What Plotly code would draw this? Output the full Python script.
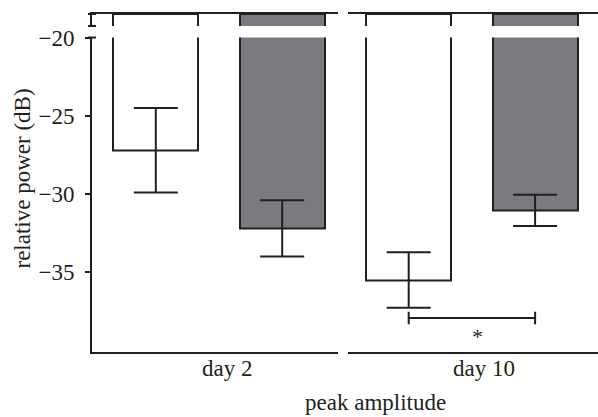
import plotly.graph_objects as go

# ---- data ----
days = ["day 2", "day 10"]
white_means = [-27.2, -35.5]
white_err = [2.7, 1.77]
gray_means = [-32.2, -31.05]
gray_err = [1.8, 1.0]
sig_y = -37.93
sig_label = "*"
y_ticks = [-20, -25, -30, -35]
y_ticktext = ["\u221220", "\u221225", "\u221230", "\u221235"]

INK = "#231f20"
GRAY = "#7a7b7f"
FONT = "Liberation Serif"
FS = 23

W, H = 598, 417
ML, MR, MT, MB = 92, 0, 14, 65
PW = W - ML - MR
PH = H - MT - MB

def px_x(px):
    return (px - ML) / PW

def px_y(py):
    return (H - MB - py) / PH

left_dom = [0, px_x(338)]
right_dom = [px_x(348), 1]
low_dom = [0, px_y(37.5)]
top_dom = [px_y(26), 1]

unit = 126.4
left_range = [-(155.8 - 92) / unit, -(155.8 - 92) / unit + 246 / unit]
right_range = [-(408.7 - 348) / unit, -(408.7 - 348) / unit + 250 / unit]
bw = 85 / unit

fig = go.Figure()

panels = [("x", "x3"), ("x2", "x4")]
for i, (xl, xt) in enumerate(panels):
    # lower segment with error bars
    fig.add_trace(go.Bar(x=[0], y=[white_means[i]], width=bw, xaxis=xl, yaxis="y",
                         marker=dict(color="white", line=dict(color=INK, width=2)),
                         error_y=dict(type="data", array=[white_err[i]], color=INK,
                                      thickness=2, width=22),
                         showlegend=False, hoverinfo="skip"))
    fig.add_trace(go.Bar(x=[1], y=[gray_means[i]], width=bw, xaxis=xl, yaxis="y",
                         marker=dict(color=GRAY, line=dict(color=INK, width=2)),
                         error_y=dict(type="data", array=[gray_err[i]], color=INK,
                                      thickness=2, width=22),
                         showlegend=False, hoverinfo="skip"))
    # upper (broken) segment
    fig.add_trace(go.Bar(x=[0], y=[white_means[i]], width=bw, xaxis=xt, yaxis="y3",
                         marker=dict(color="white", line=dict(color=INK, width=2)),
                         showlegend=False, hoverinfo="skip"))
    fig.add_trace(go.Bar(x=[1], y=[gray_means[i]], width=bw, xaxis=xt, yaxis="y3",
                         marker=dict(color=GRAY, line=dict(color=INK, width=2)),
                         showlegend=False, hoverinfo="skip"))

# significance bracket (day 10)
fig.add_trace(go.Scatter(x=[0, 1], y=[sig_y, sig_y], xaxis="x2", yaxis="y",
                         mode="lines+markers",
                         line=dict(color=INK, width=2),
                         marker=dict(symbol="line-ns-open", size=9,
                                     line=dict(color=INK, width=2)),
                         showlegend=False, hoverinfo="skip", cliponaxis=False))

fig.add_annotation(x=0.543, y=sig_y - 1.2, xref="x2", yref="y", text=sig_label,
                   showarrow=False, font=dict(family=FONT, size=22, color=INK),
                   xanchor="center", yanchor="middle")

axcommon = dict(showgrid=False, zeroline=False, showline=True, linecolor=INK,
                linewidth=2, fixedrange=True)

fig.update_layout(
    width=W, height=H,
    margin=dict(l=ML, r=MR, t=MT, b=MB),
    paper_bgcolor="white", plot_bgcolor="white",
    bargap=0,
    font=dict(family=FONT, size=FS, color=INK),
    xaxis=dict(domain=left_dom, anchor="y", range=left_range,
               showticklabels=False, ticks="", **axcommon),
    xaxis2=dict(domain=right_dom, anchor="y", range=right_range,
                showticklabels=False, ticks="", **axcommon),
    xaxis3=dict(domain=left_dom, anchor="y3", range=left_range, side="top",
                showticklabels=False, ticks="", **axcommon),
    xaxis4=dict(domain=right_dom, anchor="y3", range=right_range, side="top",
                showticklabels=False, ticks="", **axcommon),
    yaxis=dict(domain=low_dom, anchor="x", range=[-40.1, -20],
               tickvals=y_ticks, ticktext=y_ticktext, ticks="outside",
               ticklen=5, tickwidth=2, tickcolor=INK, ticklabelstandoff=6,
               **axcommon),
    yaxis3=dict(domain=top_dom, anchor="x3", range=[-0.77, 0],
                showticklabels=False, ticks="", **axcommon),
)

# category labels under each panel
fig.add_annotation(text=days[0], xref="x", yref="paper", x=0.563, y=px_y(368),
                   showarrow=False, xanchor="center", yanchor="middle",
                   font=dict(family=FONT, size=FS, color=INK))
fig.add_annotation(text=days[1], xref="x2", yref="paper", x=0.593, y=px_y(368),
                   showarrow=False, xanchor="center", yanchor="middle",
                   font=dict(family=FONT, size=FS, color=INK))

# axis-break serifs
for yy in [1, top_dom[0], low_dom[1]]:
    fig.add_shape(type="line", xref="paper", yref="paper",
                  x0=px_x(88), x1=px_x(96), y0=yy, y1=yy,
                  line=dict(color=INK, width=2))

fig.add_annotation(text="relative power (dB)", xref="paper", yref="paper",
                   x=px_x(21.5), y=px_y(179), textangle=-90, showarrow=False,
                   xanchor="center", yanchor="middle",
                   font=dict(family=FONT, size=FS, color=INK))
fig.add_annotation(text="peak amplitude", xref="paper", yref="paper",
                   x=px_x(375.5), y=px_y(417), showarrow=False,
                   xanchor="center", yanchor="bottom",
                   font=dict(family=FONT, size=FS, color=INK))

fig.write_html("out.html", config={"displayModeBar": False},
               post_script="document.body.style.margin='0';document.body.style.overflow='hidden';")
